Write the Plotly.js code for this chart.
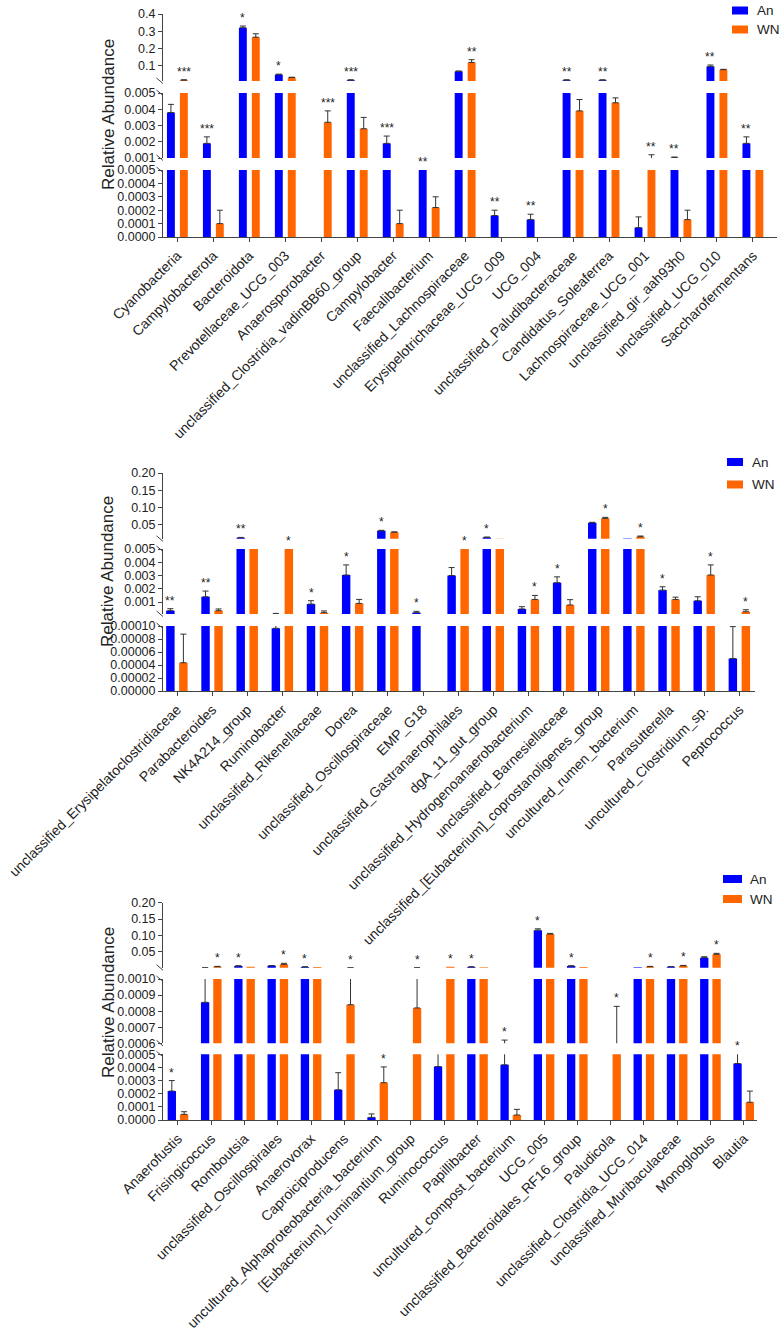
<!DOCTYPE html>
<html><head><meta charset="utf-8">
<script src="https://cdn.plot.ly/plotly-3.0.1.min.js"></script>
<style>html,body{margin:0;padding:0;background:#fff}#chart{width:783px;height:1337px}</style>
</head><body><div id="chart"></div>
<script>
// ---------- Panel 1 data ----------
const cats1 = ["Cyanobacteria","Campylobacterota","Bacteroidota","Prevotellaceae_UCG_003","Anaerosporobacter","unclassified_Clostridia_vadinBB60_group","Campylobacter","Faecalibacterium","unclassified_Lachnospiraceae","Erysipelotrichaceae_UCG_009","UCG_004","unclassified_Paludibacteraceae","Candidatus_Soleaferrea","Lachnospiraceae_UCG_001","unclassified_gir_aah93h0","unclassified_UCG_010","Saccharofermentans"];
const an1    = [0.0038,0.0019,0.32,0.047,0,0.015,0.0019,0.0008,0.066,0.00016,0.00013,0.015,0.015,0.00007,0.00102,0.095,0.0019];
const anErr1 = [0.0005,0.0004,0.01,0.003,0,0.002,0.00045,0,0.002,0.00004,0.00004,0.002,0.002,0.00008,0.00004,0.008,0.0004];
const wn1    = [0.015,0.0001,0.265,0.03,0.0032,0.0028,0.0001,0.00022,0.118,0,0,0.0039,0.0044,0.0009,0.00013,0.076,0.0008];
const wnErr1 = [0.002,0.0001,0.02,0.002,0.0007,0.0007,0.0001,0.00008,0.016,0,0,0.0007,0.0003,0.0003,0.00007,0.002,0];
const sig1   = ["***","***","*","*","***","***","***","**","**","**","**","**","**","**","**","**","**"];
const sigOn1 = ["WN","An","An","An","WN","An","An","An","WN","An","An","An","An","WN","An","An","An"];
const ticks1 = [[0,0.0001,0.0002,0.0003,0.0004,0.0005],[0.001,0.002,0.003,0.004,0.005],[0.1,0.2,0.3,0.4]];
const ranges1 = [[0,0.0005],[0.001,0.005],[0.01,0.4]];
const fmt1 = [".4f",".3f",".1f"];

// ---------- Panel 2 data ----------
const cats2 = ["unclassified_Erysipelatoclostridiaceae","Parabacteroides","NK4A214_group","Ruminobacter","unclassified_Rikenellaceae","Dorea","unclassified_Oscillospiraceae","EMP_G18","unclassified_Gastranaerophilales","dgA_11_gut_group","unclassified_Hydrogenoanaerobacterium","unclassified_Barnesiellaceae","unclassified_[Eubacterium]_coprostanoligenes_group","uncultured_rumen_bacterium","Parasutterella","uncultured_Clostridium_sp.","Peptococcus"];
const an2    = [0.00035,0.0014,0.013,0.0000965,0.00085,0.00304,0.033,0.0002,0.003,0.014,0.00048,0.00246,0.0566,0.011,0.0019,0.0011,0.00005];
const anErr2 = [0.00015,0.00043,0.001,0.00005,0.00025,0.00076,0.0015,0.0001,0.0006,0.001,0.00017,0.00044,0.001,0,0.00025,0.0003,0.000049];
const wn2    = [0.0000435,0.00035,0.008,0.008,0.0002,0.0009,0.029,0,0.008,0.0102,0.0012,0.00078,0.069,0.016,0.0012,0.00304,0.00027];
const wnErr2 = [0.000044,0.00013,0,0,0.00013,0.0003,0.001,0,0,0,0.0003,0.0004,0.003,0.002,0.00017,0.00076,0.00015];
const sig2   = ["**","**","**","*","*","*","*","*","*","*","*","*","*","*","*","*","*"];
const sigOn2 = ["An","An","An","WN","An","An","An","An","WN","An","WN","An","WN","WN","An","WN","WN"];
const ticks2 = [[0,0.00002,0.00004,0.00006,0.00008,0.0001],[0.001,0.002,0.003,0.004,0.005],[0.05,0.1,0.15,0.2]];
const ranges2 = [[0,0.0001],[0.0001,0.005],[0.01,0.2]];
const fmt2 = [".5f",".3f",".2f"];

// ---------- Panel 3 data ----------
const cats3 = ["Anaerofustis","Frisingicoccus","Romboutsia","unclassified_Oscillospirales","Anaerovorax","Caproiciproducens","uncultured_Alphaproteobacteria_bacterium","[Eubacterium]_ruminantium_group","Ruminococcus","Papillibacter","uncultured_compost_bacterium","UCG_005","unclassified_Bacteroidales_RF16_group","Paludicola","unclassified_Clostridia_UCG_014","unclassified_Muribaculaceae","Monoglobus","Blautia"];
const an3    = [0.00022,0.000855,0.006,0.0071,0.003,0.00023,0.00002,0,0.000407,0.003,0.00042,0.116,0.006,0,0.002,0.004,0.0316,0.00043];
const anErr3 = [0.00008,0.00035,0.001,0.0005,0.001,0.00013,0.000026,0,0.00012,0.001,0.0002,0.004,0.001,0,0,0.0005,0.003,0.0001];
const wn3    = [0.000043,0.004,0.004,0.0114,0.003,0.00084,0.000284,0.00082,0.004,0.002,0.000038,0.104,0.003,0.00055,0.004,0.007,0.042,0.000135];
const wnErr3 = [0.00002,0.001,0,0.003,0,0.00036,0.00012,0.00038,0,0,0.000043,0.002,0,0.00028,0.001,0.001,0.003,0.000085];
const sig3   = ["*","*","*","*","*","*","*","*","*","*","*","*","*","*","*","*","*","*"];
const sigOn3 = ["An","WN","An","WN","An","WN","WN","WN","WN","An","An","An","An","WN","WN","WN","WN","An"];
const ticks3 = [[0,0.0001,0.0002,0.0003,0.0004,0.0005],[0.0006,0.0007,0.0008,0.0009,0.001],[0.05,0.1,0.15,0.2]];
const ranges3 = [[0,0.0005],[0.0006,0.001],[0.001,0.2]];
const fmt3 = [".4f",".4f",".2f"];

const groups = ["An","WN"];
const colors = {An:"#0000ff", WN:"#ff6600"};

// ---------- layout geometry (pixels) ----------
const W = 783, H = 1337, AX = 163;
const FONT = "Arial, 'Liberation Sans', sans-serif";
const panels = [
  {cats:cats1, an:an1, anErr:anErr1, wn:wn1, wnErr:wnErr1, sig:sig1, sigOn:sigOn1, ticks:ticks1, ranges:ranges1, fmt:fmt1,
   xpx:[AX,777], xr:[-0.4,16.67], segs:[[170,237],[93,158],[14,81]], bw:0.22, off:{An:-0.29, WN:0.07},
   leg:{x0:732,x1:748,yA:10.5,yW:29.5,tx:755}, titleY:115},
  {cats:cats2, an:an2, anErr:anErr2, wn:wn2, wnErr:wnErr2, sig:sig2, sigOn:sigOn2, ticks:ticks2, ranges:ranges2, fmt:fmt2,
   xpx:[AX,755], xr:[-0.4,16.44], segs:[[626,691],[549,614],[473,538.8]], bw:0.24, off:{An:-0.31, WN:0.06},
   leg:{x0:727,x1:743,yA:462,yW:484.5,tx:750}, titleY:572},
  {cats:cats3, an:an3, anErr:anErr3, wn:wn3, wnErr:wnErr3, sig:sig3, sigOn:sigOn3, ticks:ticks3, ranges:ranges3, fmt:fmt3,
   xpx:[AX,757], xr:[-0.45,17.4], segs:[[1054.3,1120],[979,1043.3],[902.7,967.7]], bw:0.25, off:{An:-0.31, WN:0.06},
   leg:{x0:723,x1:742,yA:879,yW:899,tx:748}, titleY:1003}
];
const fx = p => p / W;
const fy = p => 1 - p / H;
const yIdx = (p, s) => p*3 + s + 1;
const yName = (p, s) => { const n = yIdx(p, s); return n === 1 ? "y" : "y" + n; };
const yKey = (p, s) => { const n = yIdx(p, s); return n === 1 ? "yaxis" : "yaxis" + n; };
const xName = p => p === 0 ? "x" : "x" + (p + 1);
const xKey = p => p === 0 ? "xaxis" : "xaxis" + (p + 1);

const data = [], annotations = [], shapes = [];
const layout = {
  width: W, height: H, margin: {l:0, r:0, t:0, b:0},
  paper_bgcolor: "#fff", plot_bgcolor: "rgba(0,0,0,0)",
  showlegend: false, barmode: "overlay",
  font: {family: FONT, color: "#222"}
};

panels.forEach((P, p) => {
  const xn = xName(p);
  layout[xKey(p)] = {
    type: "category", domain: [fx(P.xpx[0]), fx(P.xpx[1])], range: P.xr, anchor: yName(p,0),
    showline: true, linecolor: "#444", linewidth: 1, ticks: "outside", ticklen: 4, tickcolor: "#444",
    showgrid: false, zeroline: false, tickangle: -45, tickfont: {size: 14, color: "#222", family: FONT},
    automargin: false, fixedrange: true
  };
  P.segs.forEach((sg, s) => {
    const yn = yName(p, s);
    const r = P.ranges[s], eps = (r[1]-r[0]) * 1e-6;
    layout[yKey(p, s)] = {
      domain: [fy(sg[1]), fy(sg[0])], range: [r[0]-eps, r[1]+eps], anchor: xn,
      showline: true, linecolor: "#444", linewidth: 1, ticks: "outside", ticklen: 4, tickcolor: "#444",
      tickmode: "array", tickvals: P.ticks[s], tickformat: P.fmt[s],
      showgrid: false, zeroline: false, tickfont: {size: 12.5, color: "#222", family: FONT},
      automargin: false, fixedrange: true
    };
    groups.forEach(g => {
      const vals = g === "An" ? P.an : P.wn;
      const errs = g === "An" ? P.anErr : P.wnErr;
      // bars: only those reaching into this segment
      data.push({
        type: "bar", x: P.cats, y: vals.map(v => v > r[0] ? v : null), xaxis: xn, yaxis: yn,
        width: P.bw, offset: P.off[g], marker: {color: colors[g], line: {width: 0}},
        hoverinfo: "skip"
      });
      // upper error bars: only where they are visible in this segment
      const show = errs.map((e, i) => e > 0 && vals[i] + e > r[0] && vals[i] < r[1]);
      data.push({
        type: "bar", x: P.cats, y: vals.map((v, i) => show[i] ? v : null), xaxis: xn, yaxis: yn,
        width: P.bw, offset: P.off[g], marker: {color: "rgba(0,0,0,0)", line: {width: 0}},
        error_y: {type: "data", symmetric: false, array: errs, arrayminus: errs.map(() => 0),
                  color: "#333", thickness: 1, width: 3},
        hoverinfo: "skip"
      });
    });
    // break marks
    if (s < 2) shapes.push({type:"line", xref:"paper", yref:"paper", x0:fx(AX-6.5), y0:fy(sg[0]-3), x1:fx(AX), y1:fy(sg[0]+2.5), line:{color:"#444", width:1}});
    if (s > 0) shapes.push({type:"line", xref:"paper", yref:"paper", x0:fx(AX-6.5), y0:fy(sg[1]-3), x1:fx(AX), y1:fy(sg[1]+2.5), line:{color:"#444", width:1}});
  });
  // significance stars
  P.cats.forEach((c, i) => {
    const g = P.sigOn[i];
    const top = (g === "An" ? P.an[i] + P.anErr[i] : P.wn[i] + P.wnErr[i]);
    let s = 0;
    for (let k = 0; k < 3; k++) if (P.ranges[k][0] < top) s = k;
    const y = Math.min(top, P.ranges[s][1]);
    annotations.push({
      x: i + P.off[g] + P.bw/2, y: y, xref: xn, yref: yName(p, s),
      text: P.sig[i], showarrow: false, yanchor: "bottom", xanchor: "center", yshift: -1,
      font: {size: 12, color: "#222", family: FONT}
    });
  });
  // y title
  annotations.push({x: fx(108), y: fy(P.titleY), xref:"paper", yref:"paper", text:"Relative Abundance",
    textangle: -90, showarrow:false, xanchor:"center", yanchor:"middle", font:{size:17, color:"#222", family:FONT}});
  // legend
  groups.forEach(g => {
    const yc = g === "An" ? P.leg.yA : P.leg.yW;
    shapes.push({type:"rect", xref:"paper", yref:"paper", x0:fx(P.leg.x0), x1:fx(P.leg.x1), y0:fy(yc-4), y1:fy(yc+4),
      fillcolor: colors[g], line:{width:0}});
    annotations.push({x: fx(P.leg.tx), y: fy(yc), xref:"paper", yref:"paper", text:g, showarrow:false,
      xanchor:"left", yanchor:"middle", font:{size:13.5, color:"#222", family:FONT}});
  });
});
layout.annotations = annotations;
layout.shapes = shapes;
Plotly.newPlot("chart", data, layout, {staticPlot: true, displayModeBar: false});
</script></body></html>
